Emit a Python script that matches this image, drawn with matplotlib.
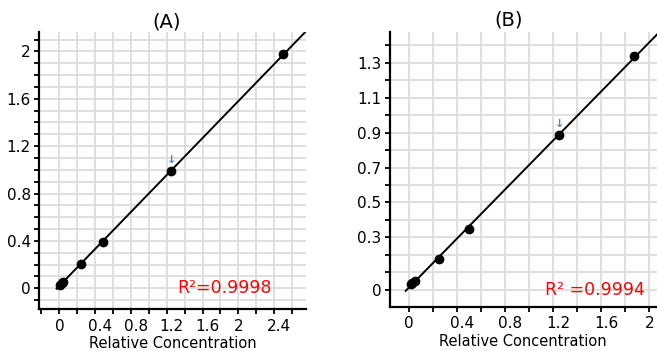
import numpy as np
import matplotlib
matplotlib.use("Agg")
import matplotlib.pyplot as plt
from matplotlib.ticker import MultipleLocator, FixedLocator, FixedFormatter
import matplotlib.transforms as mtransforms

plt.rcParams['font.family'] = ['DejaVu Sans']

# ---------------- data ----------------
panel_titles = ["(A)", "(B)"]
x_label = "Relative Concentration"

a_conc = [0.01, 0.025, 0.04, 0.24, 0.49, 1.25, 2.50]
a_signal = [0.03, 0.045, 0.055, 0.205, 0.393, 0.99, 1.975]
a_r2 = "R²=0.9998"
a_xticks = [0, 0.4, 0.8, 1.2, 1.6, 2.0, 2.4]
a_xticklabels = ["0", "0.4", "0.8", "1.2", "1.6", "2", "2.4"]
a_yticks = [0, 0.4, 0.8, 1.2, 1.6, 2.0]
a_yticklabels = ["0", "0.4", "0.8", "1.2", "1.6", "2"]
a_marked_index = 5

b_conc = [0.01, 0.025, 0.045, 0.2475, 0.4975, 1.25, 1.875]
b_signal = [0.03, 0.04, 0.05, 0.177, 0.348, 0.887, 1.338]
b_r2 = "R² =0.9994"
b_xticks = [0, 0.4, 0.8, 1.2, 1.6, 2.0]
b_xticklabels = ["0", "0.4", "0.8", "1.2", "1.6", "2"]
b_yticks = [0, 0.3, 0.5, 0.7, 0.9, 1.1, 1.3]
b_yticklabels = ["0", "0.3", "0.5", "0.7", "0.9", "1.1", "1.3"]
b_marked_index = 5

# ---------------- figure ----------------
W, H = 657, 351
fig = plt.figure(figsize=(W / 100, H / 100), dpi=100)

def px_rect(l, t, r, b):
    return [l / W, 1 - b / H, (r - l) / W, (b - t) / H]

axA = fig.add_axes(px_rect(39, 32, 306, 309))
axB = fig.add_axes(px_rect(389.5, 32, 657, 306.7))

panels = [
    dict(ax=axA, conc=a_conc, sig=a_signal, r2=a_r2, xt=a_xticks, xtl=a_xticklabels,
         yt=a_yticks, ytl=a_yticklabels, xlim=(-0.227, 2.756), ylim=(-0.175, 2.164),
         xminor=0.2, yminor=0.1, mark=a_marked_index, r2pos=(1.32, 0.0),
         title=panel_titles[0], tpos=(166.7, 21.7)),
    dict(ax=axB, conc=b_conc, sig=b_signal, r2=b_r2, xt=b_xticks, xtl=b_xticklabels,
         yt=b_yticks, ytl=b_yticklabels, xlim=(-0.165, 2.064), ylim=(-0.098, 1.477),
         xminor=0.2, yminor=0.1, mark=b_marked_index, r2pos=(1.13, 0.0),
         title=panel_titles[1], tpos=(508.3, 20.5)),
]

shift = mtransforms.ScaledTranslation(0.05, 0, fig.dpi_scale_trans)
grid_color = '#dcdcdc'

for p in panels:
    ax = p['ax']
    ax.set_xlim(*p['xlim'])
    ax.set_ylim(*p['ylim'])
    ax.xaxis.set_major_locator(FixedLocator(p['xt']))
    ax.xaxis.set_major_formatter(FixedFormatter(p['xtl']))
    ax.yaxis.set_major_locator(FixedLocator(p['yt']))
    ax.yaxis.set_major_formatter(FixedFormatter(p['ytl']))
    ax.xaxis.set_minor_locator(MultipleLocator(p['xminor']))
    ax.yaxis.set_minor_locator(MultipleLocator(p['yminor']))
    ax.grid(axis='y', which='both', color=grid_color, lw=1.3)
    ax.set_axisbelow(True)
    # vertical grid lines from zero onwards only
    for gx in np.arange(0, p['xlim'][1], p['xminor']):
        ax.axvline(gx, color=grid_color, lw=1.3, zorder=0.5)
    for s in ['top', 'right']:
        ax.spines[s].set_visible(False)
    for s in ['left', 'bottom']:
        ax.spines[s].set_linewidth(1.6)
        ax.spines[s].set_color('black')
    ax.tick_params(axis='both', which='both', direction='out', length=3.5,
                   width=1.3, color='black', labelsize=11)
    ax.tick_params(axis='x', which='both', pad=3.5)
    ax.tick_params(axis='y', which='both', pad=2.5)

    conc = np.array(p['conc'])
    sig = np.array(p['sig'])
    coef = np.polyfit(conc, sig, 1)
    xs = np.array([conc.min() - 0.04, p['xlim'][1]])
    ax.plot(xs, np.polyval(coef, xs), color='black', lw=1.4, zorder=3)
    ax.plot(conc, sig, 'o', color='black', ms=6, zorder=4)

    i = p['mark']
    ax.annotate('↓', xy=(conc[i], sig[i]), xytext=(0, 8), textcoords='offset points',
                ha='center', va='center', color='#4f86c6', fontsize=8,
                fontweight='bold', zorder=5)

    ax.text(p['r2pos'][0], p['r2pos'][1], p['r2'], color='#ff0000', fontsize=12.5,
            ha='left', va='center', zorder=5)

    ax.set_xlabel(x_label, fontsize=10.5, labelpad=1.5)

    fig.text(p['tpos'][0] / W, 1 - p['tpos'][1] / H, p['title'], fontsize=14,
             ha='center', va='center')

    for lab in ax.get_xticklabels():
        if '.' in lab.get_text():
            lab.set_transform(lab.get_transform() + shift)

fig.savefig("out.png", dpi=100)
